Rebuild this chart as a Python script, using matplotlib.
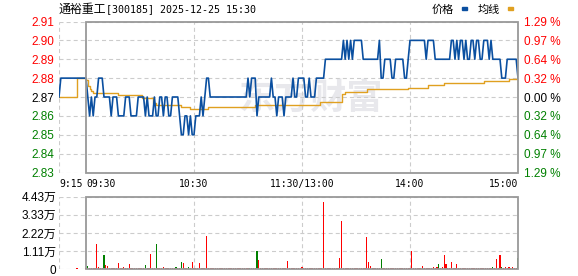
import numpy as np
import matplotlib
matplotlib.use("Agg")
import matplotlib.pyplot as plt
from matplotlib.patches import Rectangle

plt.rcParams['font.family'] = ['Liberation Sans', 'Noto Sans CJK SC']
plt.rcParams['lines.scale_dashes'] = False

# ---- data ----
stock_name = "通裕重工"
stock_info = "[300185] 2025-12-25 15:30"
prev_close = 2.87

# call auction 9:15-9:29 (minutes before 9:30)
pre_minutes = [-15, -14, -13, -12, -11, -10, -9, -8, -7, -6, -5, -4, -3, -2, -1]
pre_price = [2.87, 2.88, 2.88, 2.88, 2.88, 2.88, 2.88, 2.88, 2.88, 2.88,
             2.88, 2.88, 2.88, 2.88, 2.88]
pre_vol_minutes = [-5]
pre_vol = [0.10]

# one price per trading minute, 09:30 (0) .. 15:00 (240)
price = [
    2.88, 2.87, 2.86, 2.87, 2.86, 2.87, 2.87, 2.88, 2.88, 2.88,
    2.87, 2.87, 2.87, 2.87, 2.86, 2.87, 2.87, 2.87, 2.86, 2.86,
    2.86, 2.86, 2.87, 2.87, 2.87, 2.86, 2.86, 2.86, 2.86, 2.87,
    2.87, 2.87, 2.87, 2.86, 2.87, 2.86, 2.86, 2.86, 2.87, 2.86,
    2.86, 2.87, 2.87, 2.86, 2.87, 2.87, 2.86, 2.86, 2.87, 2.87,
    2.87, 2.87, 2.86, 2.85, 2.85, 2.86, 2.86, 2.85, 2.86, 2.85,
    2.85, 2.86, 2.86, 2.86, 2.87, 2.86, 2.87, 2.88, 2.88, 2.87,
    2.87, 2.87, 2.87, 2.87, 2.87, 2.87, 2.87, 2.87, 2.87, 2.87,
    2.87, 2.87, 2.87, 2.87, 2.87, 2.87, 2.87, 2.87, 2.87, 2.87,
    2.88, 2.87, 2.88, 2.88, 2.88, 2.86, 2.87, 2.87, 2.87, 2.87,
    2.87, 2.87, 2.87, 2.88, 2.87, 2.87, 2.86, 2.87, 2.87, 2.87,
    2.86, 2.87, 2.87, 2.87, 2.87, 2.88, 2.87, 2.87, 2.88, 2.88,
    2.88, 2.88, 2.87, 2.87, 2.88, 2.87, 2.87, 2.87, 2.88, 2.88,
    2.88, 2.88, 2.88, 2.89, 2.89, 2.89, 2.89, 2.89, 2.89, 2.89,
    2.89, 2.89, 2.89, 2.90, 2.89, 2.90, 2.89, 2.90, 2.89, 2.90,
    2.90, 2.90, 2.90, 2.90, 2.89, 2.89, 2.89, 2.89, 2.89, 2.89,
    2.89, 2.89, 2.89, 2.90, 2.88, 2.88, 2.89, 2.89, 2.89, 2.89,
    2.88, 2.88, 2.89, 2.89, 2.89, 2.89, 2.89, 2.88, 2.88, 2.89,
    2.90, 2.90, 2.90, 2.90, 2.90, 2.90, 2.90, 2.90, 2.90, 2.89,
    2.90, 2.90, 2.90, 2.90, 2.89, 2.89, 2.89, 2.89, 2.89, 2.89,
    2.89, 2.89, 2.89, 2.90, 2.90, 2.89, 2.90, 2.89, 2.90, 2.90,
    2.89, 2.90, 2.89, 2.89, 2.90, 2.90, 2.89, 2.90, 2.90, 2.89,
    2.89, 2.90, 2.90, 2.90, 2.89, 2.90, 2.89, 2.89, 2.89, 2.89,
    2.89, 2.88, 2.88, 2.88, 2.89, 2.89, 2.89, 2.89, 2.89, 2.89,
    2.88,
]

# average line, as (minute where it changes, new value)
avg_minutes = [-15, -5, 0, 1, 2, 3, 4, 18, 31, 37, 39, 53, 58, 68, 94,
               120, 130, 142, 144, 156, 179, 190, 199, 221, 235, 240]
avg_values = [2.870, 2.880, 2.879, 2.876, 2.874, 2.873, 2.872, 2.871,
              2.8695, 2.867, 2.8658, 2.8648, 2.8635, 2.8645, 2.8655,
              2.866, 2.8675, 2.8715, 2.8728, 2.8742, 2.875, 2.8762,
              2.8775, 2.8785, 2.8795, 2.8798]

# volume per minute, in 万 shares
volume = [
    0.06, 0.20, 0.06, 0.05, 0.06, 0.08, 1.55, 0.12, 0.06, 0.05,
    0.86, 0.26, 0.20, 0.06, 0.05, 0.06, 0.05, 0.06, 0.38, 0.06,
    0.05, 0.14, 0.06, 0.05, 0.33, 0.06, 0.05, 0.06, 0.05, 0.06,
    0.05, 0.06, 0.05, 0.24, 0.06, 0.05, 0.93, 0.06, 0.05, 1.55,
    0.06, 0.05, 0.06, 0.16, 0.05, 0.06, 0.05, 0.06, 0.05, 0.06,
    0.12, 0.06, 0.05, 0.45, 0.37, 0.06, 0.05, 0.15, 0.06, 0.44,
    0.06, 0.05, 0.06, 0.38, 0.10, 0.05, 0.06, 2.02, 0.06, 0.05,
    0.06, 0.05, 0.06, 0.05, 0.06, 0.05, 0.06, 0.05, 0.06, 0.05,
    0.06, 0.10, 0.05, 0.06, 0.05, 0.06, 0.05, 0.06, 0.05, 0.06,
    0.05, 0.08, 0.06, 0.05, 0.06, 1.14, 0.57, 0.06, 0.05, 0.06,
    0.10, 0.05, 0.06, 0.05, 0.06, 0.05, 0.06, 0.05, 0.06, 0.05,
    0.06, 0.05, 0.50, 0.06, 0.05, 0.06, 0.05, 0.06, 0.05, 0.06,
    0.12, 0.05, 0.06, 0.05, 0.06, 0.05, 0.06, 0.05, 0.06, 0.05,
    0.06, 0.05, 4.12, 0.06, 0.05, 0.06, 0.05, 0.06, 0.05, 0.06,
    0.05, 0.69, 2.95, 0.10, 0.05, 0.06, 0.05, 0.08, 0.05, 0.06,
    0.05, 0.08, 0.05, 0.06, 0.05, 0.06, 1.97, 0.47, 0.20, 0.06,
    0.05, 0.06, 0.05, 0.10, 0.64, 0.05, 0.06, 0.05, 0.06, 0.05,
    0.06, 0.05, 0.06, 0.05, 0.06, 0.05, 0.06, 0.05, 0.06, 0.05,
    0.06, 1.14, 0.05, 0.06, 0.05, 0.06, 0.05, 0.18, 0.06, 0.05,
    0.06, 0.05, 0.06, 0.12, 0.06, 0.15, 0.33, 0.06, 0.12, 0.90,
    0.33, 0.06, 0.10, 0.45, 0.06, 0.05, 0.35, 0.06, 0.05, 0.06,
    0.05, 0.06, 0.05, 0.06, 0.05, 0.06, 0.05, 0.06, 0.05, 0.06,
    0.05, 0.06, 0.05, 0.06, 0.08, 0.06, 0.15, 0.05, 0.60, 0.06,
    0.90, 0.15, 0.06, 0.12, 0.06, 0.15, 0.06, 0.12, 0.06, 0.06,
    0.70,
]
# minutes whose volume bar is green (down tick)
volume_down = [1, 10, 33, 39, 50, 53, 57, 91, 95, 164, 196, 226, 231, 240]

price_ticks = [2.83, 2.84, 2.85, 2.86, 2.87, 2.88, 2.89, 2.90, 2.91]
pct_labels = ["1.29 %", "0.97 %", "0.64 %", "0.32 %", "0.00 %",
              "0.32 %", "0.64 %", "0.97 %", "1.29 %"]
vol_ticks = [0, 1.11, 2.22, 3.33, 4.43]
vol_labels = ["0", "1.11万", "2.22万", "3.33万", "4.43万"]
time_ticks = [-15, 0, 60, 120, 180, 240]
time_labels = ["9:15", "09:30", "10:30", "11:30/13:00", "14:00", "15:00"]
grid_minutes = [-15, 60, 120, 180]

# ---- styling ----
W, H = 578, 276
BLUE = "#0a4fa0"
ORANGE = "#e0a020"
RED = "#ff0000"
GREEN = "#008000"
BORDER = "#999999"
GRID = "#cccccc"
DASH = (2.9, 2.2)

fig = plt.figure(figsize=(W / 100, H / 100), dpi=100)
fig.patch.set_facecolor("white")


def px_axes(left, top, right, bottom):
    return fig.add_axes([left / W, 1 - bottom / H, (right - left) / W, (bottom - top) / H])


ax = px_axes(59, 21.5, 518, 172.5)
axv = px_axes(59, 196.7, 518, 269.3)

for a in (ax, axv):
    a.set_xlim(-15, 240)
    for s in a.spines.values():
        s.set_visible(False)
    a.set_facecolor("none")

# ---- price panel ----
ax.set_ylim(price_ticks[0], price_ticks[-1])
for p in price_ticks:
    ax.plot([-15, 240], [p, p], color=GRID, lw=0.8, dashes=DASH, zorder=1)
for m in grid_minutes:
    ax.plot([m, m], [price_ticks[0], price_ticks[-1]], color=GRID, lw=0.8,
            dashes=DASH, zorder=1)
ax.add_patch(Rectangle((0, price_ticks[0]), 240, price_ticks[-1] - price_ticks[0],
                       fill=False, edgecolor=BORDER, lw=1.3, zorder=5, clip_on=False))

# faint watermark
ax.text(0.549, 0.493, "东方财富", transform=ax.transAxes, ha="center", va="center",
        fontsize=26, fontweight="bold", color="#e8e8ec", zorder=0,
        family=["Noto Sans CJK SC"])

minutes = np.arange(len(price))
ax.step(avg_minutes, avg_values, where="post", color=ORANGE, lw=1.0, zorder=3)
all_min = list(pre_minutes) + list(minutes)
all_price = list(pre_price) + list(price)
ax.plot(all_min, all_price, color=BLUE, lw=1.2, zorder=4)

ax.set_yticks(price_ticks)
ax.set_yticklabels([f"{p:.2f}" for p in price_ticks], fontsize=8.5)
for lab, p in zip(ax.get_yticklabels(), price_ticks):
    lab.set_color(RED if p > prev_close + 1e-9 else (GREEN if p < prev_close - 1e-9 else "black"))
ax.tick_params(axis="y", length=0, pad=3.5)

ax.set_xticks(time_ticks)
ax.set_xticklabels(time_labels, fontsize=7, family=["DejaVu Sans Mono"])
for lab, ha in zip(ax.get_xticklabels(), ["left", "left", "center", "center", "center", "right"]):
    lab.set_horizontalalignment(ha)
ax.tick_params(axis="x", length=0, pad=5)

ax2 = ax.twinx()
ax2.set_ylim(price_ticks[0], price_ticks[-1])
for s in ax2.spines.values():
    s.set_visible(False)
ax2.set_yticks(price_ticks)
ax2.set_yticklabels(pct_labels, fontsize=8.5)
for lab, p in zip(ax2.get_yticklabels(), price_ticks):
    lab.set_color(RED if p > prev_close + 1e-9 else (GREEN if p < prev_close - 1e-9 else "black"))
ax2.tick_params(axis="y", length=0, pad=4.5)

# ---- volume panel ----
axv.set_ylim(0, vol_ticks[-1])
for v in vol_ticks:
    axv.plot([-15, 240], [v, v], color=GRID, lw=0.8, dashes=DASH, zorder=1)
for m in grid_minutes:
    axv.plot([m, m], [0, vol_ticks[-1]], color=GRID, lw=0.8, dashes=DASH, zorder=1)
axv.add_patch(Rectangle((0, 0), 240, vol_ticks[-1], fill=False, edgecolor=BORDER,
                        lw=1.3, zorder=5, clip_on=False))
bar_colors = [GREEN if m in volume_down else RED for m in minutes]
axv.bar(minutes, volume, width=0.6, color=bar_colors, linewidth=0, zorder=3,
        antialiased=False)
axv.bar(pre_vol_minutes, pre_vol, width=0.6, color=RED, linewidth=0, zorder=3,
        antialiased=False)
axv.set_yticks(vol_ticks)
axv.set_yticklabels(vol_labels, fontsize=8.5, color="black")
axv.tick_params(axis="y", length=0, pad=2)
axv.set_xticks([])

# ---- header ----
fig.text(58 / W, 1 - 9.5 / H, stock_name, fontsize=8.6, va="center", ha="left",
         family=["Noto Sans CJK SC"])
fig.text(106 / W, 1 - 9.5 / H, stock_info, fontsize=7.2, va="center", ha="left",
         family=["DejaVu Sans Mono"])
fig.text(432 / W, 1 - 9.5 / H, "价格", fontsize=8, va="center", ha="left",
         family=["Noto Sans CJK SC"])
fig.text(478 / W, 1 - 9.5 / H, "均线", fontsize=8, va="center", ha="left",
         family=["Noto Sans CJK SC"])
fig.add_artist(Rectangle((462 / W, 1 - 10 / H), 4.5 / W, 2.7 / H, color=BLUE,
                         transform=fig.transFigure))
fig.add_artist(Rectangle((508 / W, 1 - 10 / H), 4.5 / W, 2.7 / H, color=ORANGE,
                         transform=fig.transFigure))

fig.savefig("out.png", dpi=100)
